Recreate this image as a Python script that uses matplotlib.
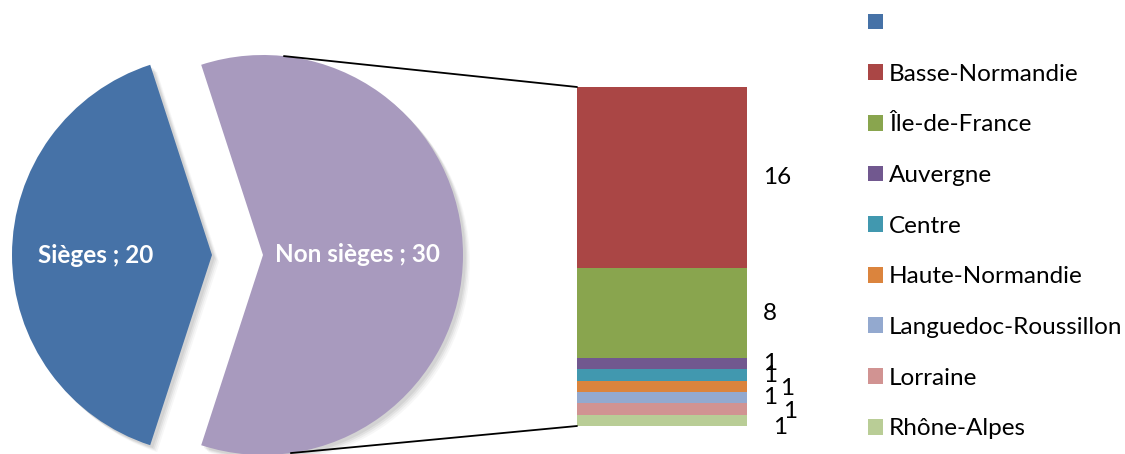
import matplotlib
matplotlib.use("Agg")
import matplotlib.pyplot as plt
from matplotlib.patches import ConnectionPatch, Shadow
import numpy as np

# ---- data ----
pie_labels = ["Sièges", "Non sièges"]
pie_values = [20, 30]
pie_colors = ["#4672A7", "#A89ABE"]

regions = ["Basse-Normandie", "Île-de-France", "Auvergne", "Centre",
           "Haute-Normandie", "Languedoc-Roussillon", "Lorraine", "Rhône-Alpes"]
region_values = [16, 8, 1, 1, 1, 1, 1, 1]
region_colors = ["#AA4645", "#89A54E", "#71588F", "#4198AF",
                 "#DB843D", "#93A9CF", "#D19392", "#B9CD96"]

# label placement styling (axes-x for label left edge, y nudge in data units)
label_x = [1.094, 1.094, 1.094, 1.094, 1.194, 1.094, 1.21, 1.153]
label_dy = [0, 0, 0, 0, -0.15, 0, -0.25, -0.6]

W, H = 1125, 454
plt.rcParams['font.family'] = ['Lato', 'DejaVu Sans']
fig = plt.figure(figsize=(W / 100, H / 100), dpi=100)

# ---- pie (axes in pixel-like coords) ----
ax = fig.add_axes([0, 0, 1, 1])
R = 200
center = (263, 199)
explode = [51, 0]
total = sum(pie_values)
start = 180 - 360 * pie_values[0] / total / 2
wedges, _ = ax.pie(pie_values, colors=pie_colors, radius=R, center=center,
                   explode=explode, startangle=start, counterclock=True,
                   wedgeprops=dict(linewidth=0), frame=True)
for w in wedges:
    for k, a in enumerate([0.06, 0.05, 0.04, 0.03]):
        s = Shadow(w, 2 + k, -(2 + k))
        s.set_facecolor("black")
        s.set_edgecolor("none")
        s.set_alpha(a)
        s.set_zorder(w.get_zorder() - 1)
        ax.add_patch(s)
ax.set_xlim(0, W)
ax.set_ylim(0, H)
ax.set_aspect("auto")
ax.axis("off")

label_dist = [0.58, 0.47]
for w, lab, v, d in zip(wedges, pie_labels, pie_values, label_dist):
    ang = np.deg2rad((w.theta1 + w.theta2) / 2)
    cx, cy = w.center
    ax.text(cx + d * R * np.cos(ang), cy + d * R * np.sin(ang),
            f"{lab} ; {v}", color="white", fontweight="bold", fontsize=17.5,
            ha="center", va="center")

# ---- stacked bar ----
bx0, bx1, by_top, by_bot = 577, 747, 87, 426
ax2 = fig.add_axes([bx0 / W, (H - by_bot) / H, (bx1 - bx0) / W, (by_bot - by_top) / H])
ax2.set_xlim(0, 1)
ax2.set_ylim(0, sum(region_values))
ax2.axis("off")

bottom = sum(region_values)
bars = []
for name, v, c, lx, dy in zip(regions, region_values, region_colors, label_x, label_dy):
    bottom -= v
    b = ax2.bar(0.5, v, width=1, bottom=bottom, color=c, linewidth=0, label=name)[0]
    bars.append(b)
    ax2.text(lx, bottom + v / 2 + dy, str(v), transform=ax2.transData,
             ha="left", va="center", fontsize=17.5, color="black")
# bar shadow
for k, a in enumerate([0.06, 0.05, 0.04, 0.03]):
    s = Shadow(plt.Rectangle((0, 0), 1, sum(region_values)), (2 + k) / 170, -(2 + k) * 30 / 339)
    s.set_facecolor("black"); s.set_edgecolor("none"); s.set_alpha(a); s.set_zorder(0)
    ax2.add_patch(s)
for b in bars:
    b.set_zorder(2)

# ---- connector lines ----
nc = center
for ang, yb in [(84, sum(region_values)), (-82, 0)]:
    p = (nc[0] + R * np.cos(np.deg2rad(ang)), nc[1] + R * np.sin(np.deg2rad(ang)))
    con = ConnectionPatch(xyA=p, coordsA=ax.transData, xyB=(0, yb), coordsB=ax2.transData,
                          color="black", linewidth=1.3)
    fig.add_artist(con)

# ---- legend ----
handles = [wedges[0]] + bars
labels = [" "] + regions
leg = fig.legend(handles, labels, loc="upper left",
                 bbox_to_anchor=(868 / W, 1 - 13 / H), frameon=False,
                 fontsize=17.5, handlelength=0.62, handleheight=0.62,
                 handletextpad=0.25, labelspacing=1.22, borderaxespad=0,
                 borderpad=0)

fig.savefig("out.png", dpi=100)
